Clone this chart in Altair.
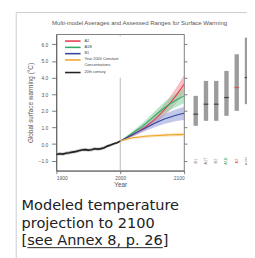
import altair as alt
import pandas as pd

# ---------------- data ----------------
hist_years = list(range(1900, 2001, 5))
hist_vals = [-0.62, -0.58, -0.60, -0.55, -0.52, -0.48, -0.45, -0.40, -0.35, -0.33,
             -0.36, -0.34, -0.28, -0.30, -0.27, -0.22, -0.12, -0.05, 0.02, 0.08, 0.18]
hist_spread = [0.10, 0.10, 0.10, 0.10, 0.10, 0.10, 0.10, 0.10, 0.10, 0.10,
               0.10, 0.10, 0.10, 0.10, 0.10, 0.10, 0.09, 0.09, 0.08, 0.08, 0.07]

fut_years = list(range(2000, 2101, 10))
a2 = [0.18, 0.38, 0.58, 0.80, 1.05, 1.35, 1.70, 2.10, 2.55, 3.05, 3.60]
a2_sd = [0.0, 0.08, 0.12, 0.16, 0.20, 0.25, 0.30, 0.36, 0.42, 0.48, 0.55]
a1b = [0.18, 0.42, 0.68, 0.95, 1.25, 1.58, 1.90, 2.20, 2.47, 2.70, 2.90]
a1b_sd = [0.0, 0.08, 0.12, 0.16, 0.20, 0.25, 0.30, 0.34, 0.38, 0.42, 0.45]
b1 = [0.18, 0.38, 0.58, 0.78, 0.98, 1.18, 1.36, 1.52, 1.65, 1.76, 1.85]
b1_sd = [0.0, 0.07, 0.10, 0.14, 0.18, 0.22, 0.26, 0.30, 0.33, 0.36, 0.40]
const = [0.18, 0.30, 0.38, 0.43, 0.47, 0.50, 0.52, 0.54, 0.56, 0.57, 0.58]
const_sd = [0.0, 0.05, 0.06, 0.07, 0.08, 0.08, 0.09, 0.09, 0.10, 0.10, 0.10]

series_names = ["A2", "A1B", "B1", "Year 2000 Constant\nConcentrations", "20th century"]
series_colors = ["#e23c4a", "#35a865", "#3346a0", "#f2a531", "#222222"]
band_colors = ["#f08a95", "#7fd3a0", "#8e9ad6", "#f8cd7c", "#9a9a9a"]

scenarios = ["B1", "A1T", "B2", "A1B", "A2", "A1FI"]
scen_low = [1.1, 1.4, 1.4, 1.7, 2.0, 2.4]
scen_high = [2.9, 3.8, 3.8, 4.4, 5.4, 6.4]
scen_best = [1.8, 2.4, 2.4, 2.8, 3.4, 4.0]
scen_label_colors = ["#777777", "#777777", "#777777", "#35a865", "#e23c4a", "#777777"]
scen_best_colors = ["#222222", "#222222", "#222222", "#222222", "#e23c4a", "#222222"]

title_text = "Multi-model Averages and Assessed Ranges for Surface Warming"
y_title = "Global surface warming (°C)"
caption_lines = ["Modeled temperature", "projection to 2100", "[see Annex 8, p. 26]"]
y_ticks = [-1, 0, 1, 2, 3, 4, 5, 6]
x_ticks = [1900, 2000, 2100]

# ---------------- tables ----------------
rows = []
for name, yrs, vals, sd in [
    (series_names[0], fut_years, a2, a2_sd),
    (series_names[1], fut_years, a1b, a1b_sd),
    (series_names[2], fut_years, b1, b1_sd),
    (series_names[3], fut_years, const, const_sd),
    (series_names[4], hist_years, hist_vals, hist_spread),
]:
    for y, v, s in zip(yrs, vals, sd):
        rows.append({"series": name, "year": y, "value": v, "lo": v - s, "hi": v + s})
curves = pd.DataFrame(rows)

bars = pd.DataFrame({"scen": scenarios, "low": scen_low, "high": scen_high,
                     "best": scen_best, "lc": scen_label_colors, "bc": scen_best_colors})

slots, acc = [], 0
for lab in series_names:
    slots.append(acc)
    acc += lab.count("\n") + 1
legend_df = pd.DataFrame({"series": series_names, "slot": slots})

Y_DOM = [-1.6, 6.6]
X_DOM = [1900, 2100]
W, H = 132, 141


def yscale():
    return alt.Scale(domain=Y_DOM, nice=False, zero=False)


def xscale():
    return alt.Scale(domain=X_DOM, nice=False)


col_band = alt.Color("series:N", scale=alt.Scale(domain=series_names, range=band_colors), legend=None)
col_line = alt.Color("series:N", scale=alt.Scale(domain=series_names, range=series_colors), legend=None)

base = alt.Chart(curves)
bands = base.mark_area(opacity=0.55).encode(
    x=alt.X("year:Q", scale=xscale(),
            axis=alt.Axis(values=x_ticks, format="d", title="Year", tickSize=3,
                          labelPadding=2, titlePadding=1, grid=False)),
    y=alt.Y("lo:Q", scale=yscale(),
            axis=alt.Axis(values=y_ticks, format=".1f", title=y_title, tickSize=5,
                          labelPadding=4, titlePadding=5, grid=False)),
    y2="hi:Q", color=col_band, detail="series:N")
lines = base.mark_line().encode(
    x=alt.X("year:Q", scale=xscale(), axis=None),
    y=alt.Y("value:Q", scale=yscale(), axis=None),
    color=col_line, detail="series:N",
    strokeWidth=alt.condition(alt.datum.series == series_names[4], alt.value(1.7), alt.value(1.1)))

# right spine ticks
right_ticks = alt.Chart(pd.DataFrame({"value": y_ticks})).mark_point(opacity=0).encode(
    y=alt.Y("value:Q", scale=yscale(),
            axis=alt.Axis(orient="right", values=y_ticks, labels=False, title=None,
                          tickSize=3, grid=False, domain=False)))

vline = alt.Chart(pd.DataFrame({"year": [x_ticks[1]]})).mark_rule(color="#9a9a9a", strokeWidth=0.7).encode(
    x=alt.X("year:Q", scale=xscale(), axis=None))

# legend box
leg_bg = alt.Chart(pd.DataFrame({"a": [0]})).mark_rect(fill="white").encode(
    x=alt.value(2), x2=alt.value(73), y=alt.value(2), y2=alt.value(45))
leg_y = alt.Y("slot:Q", scale=alt.Scale(domain=[0, 5], range=[7, 39.5]), axis=None)
leg_lines = alt.Chart(legend_df).mark_rule(strokeWidth=1.6).encode(
    x=alt.value(9), x2=alt.value(25), y=leg_y,
    color=alt.Color("series:N", scale=alt.Scale(domain=series_names, range=series_colors), legend=None))
leg_text = alt.Chart(legend_df).mark_text(align="left", baseline="top", dy=-2.5, fontSize=4,
                                          lineBreak="\n", color="#444", font="Liberation Sans").encode(
    x=alt.value(29), y=leg_y, text="series:N")

# right-hand ranges
bx = alt.X("scen:N", sort=scenarios,
           scale=alt.Scale(domain=scenarios, range=[144, 197], type="point", padding=0), axis=None)
bar_rules = alt.Chart(bars).mark_rule(strokeWidth=4.5, color="#9c9c9c").encode(
    x=bx, y=alt.Y("low:Q", scale=yscale(), axis=None), y2="high:Q")
bar_best = alt.Chart(bars).mark_tick(thickness=1.3, size=5).encode(
    x=bx, y=alt.Y("best:Q", scale=yscale(), axis=None), color=alt.Color("bc:N", scale=None, legend=None))
bar_lab = alt.Chart(bars).mark_text(angle=270, fontSize=4, font="Liberation Sans").encode(
    x=bx, y=alt.value(131), text="scen:N", color=alt.Color("lc:N", scale=None, legend=None))

# title, border, caption
title = alt.Chart(pd.DataFrame({"t": [title_text]})).mark_text(
    fontSize=6.2, color="#555", font="Liberation Sans", align="center", baseline="middle").encode(
    x=alt.value(86), y=alt.value(-12), text="t:N")
border = alt.Chart(pd.DataFrame({"a": [0]})).mark_rect(fill=None, stroke="#c8ccd1", strokeWidth=1).encode(
    x=alt.value(-41.5), x2=alt.value(260), y=alt.value(-22.5), y2=alt.value(400))
cap_df = pd.DataFrame({"line": caption_lines, "i": list(range(len(caption_lines)))})
caption = alt.Chart(cap_df).mark_text(fontSize=15, font="DejaVu Sans", color="#202122",
                                      align="left", baseline="alphabetic").encode(
    x=alt.value(-36), y=alt.Y("i:Q", scale=alt.Scale(domain=[0, 2], range=[182, 217.5]), axis=None),
    text="line:N")
underline = alt.Chart(pd.DataFrame({"a": [0]})).mark_rule(color="#202122", strokeWidth=1).encode(
    x=alt.value(-30), x2=alt.value(110), y=alt.value(220.5))

chart = alt.layer(
    border, title, bands, lines, right_ticks, vline, leg_bg, leg_lines, leg_text,
    bar_rules, bar_best, bar_lab, caption, underline
).resolve_scale(x="independent", y="independent", color="independent").properties(
    width=W, height=H,
    autosize=alt.AutoSizeParams(type="none"),
    padding={"left": 50, "top": 23, "right": 65, "bottom": 86},
).configure_view(stroke="#444", strokeWidth=0.7).configure_axis(
    labelFontSize=5, titleFontSize=6.6, labelColor="#555", titleColor="#555",
    domainColor="#444", tickColor="#444", domainWidth=0.7, tickWidth=0.7,
    labelFont="Liberation Sans", titleFont="Liberation Sans", titleFontWeight="normal"
)

chart.save("out.html", embed_options={"renderer": "svg", "actions": False})
